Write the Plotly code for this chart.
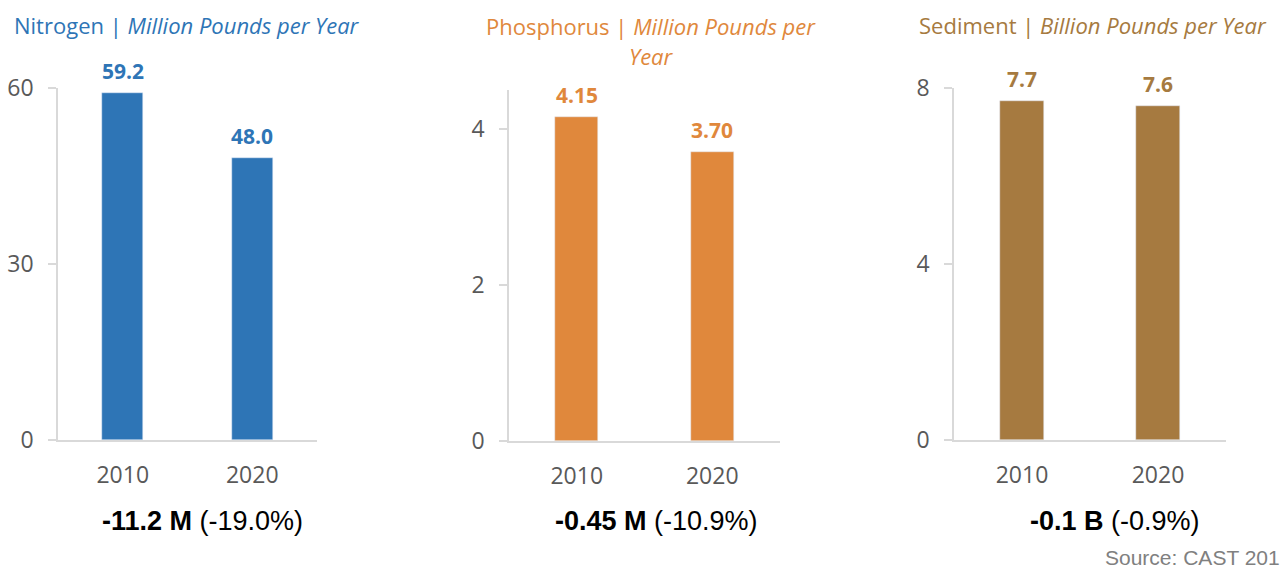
import plotly.graph_objects as go

W, H = 1282, 570

years = ["2010", "2020"]
nitrogen = [59.2, 48.0]
phosphorus = [4.15, 3.70]
sediment = [7.7, 7.6]

nitrogen_labels = ["59.2", "48.0"]
phosphorus_labels = ["4.15", "3.70"]
sediment_labels = ["7.7", "7.6"]

nitrogen_ticks = [0, 30, 60]
phosphorus_ticks = [0, 2, 4]
sediment_ticks = [0, 4, 8]

change_bold = ["-11.2 M", "-0.45 M", "-0.1 B"]
change_pct = ["(-19.0%)", "(-10.9%)", "(-0.9%)"]

C_N = "#2E75B6"
C_P = "#E0883C"
C_S = "#A67A40"
GRID = "#D9D9D9"
TICK = "#595959"


def px_x(p):
    return p / W


def px_y(p):
    return (H - p) / H


panels = [
    dict(vals=nitrogen, labels=nitrogen_labels, ticks=nitrogen_ticks, rng=[0, 60], color=C_N,
         xd=[58, 317], yd=[440, 88]),
    dict(vals=phosphorus, labels=phosphorus_labels, ticks=phosphorus_ticks, rng=[0, 4.5], color=C_P,
         xd=[509, 780], yd=[441, 90]),
    dict(vals=sediment, labels=sediment_labels, ticks=sediment_ticks, rng=[0, 8], color=C_S,
         xd=[954, 1226], yd=[440, 88]),
]

fig = go.Figure()
annotations = []
for i, p in enumerate(panels):
    n = "" if i == 0 else str(i + 1)
    fig.add_trace(go.Bar(x=years, y=p["vals"], marker_color=p["color"], width=0.32,
                         xaxis="x" + n, yaxis="y" + n, showlegend=False, hoverinfo="skip"))
    fig.layout["xaxis" + n] = dict(
        type="category", range=[-0.5, 1.5], automargin=False,
        domain=[px_x(p["xd"][0]), px_x(p["xd"][1])], anchor="y" + n,
        showline=True, linecolor=GRID, linewidth=1.5, showgrid=False, zeroline=False,
        ticks="", tickfont=dict(family="Open Sans", size=23, color=TICK),
        ticklabelstandoff=14, fixedrange=True)
    fig.layout["yaxis" + n] = dict(
        domain=[px_y(p["yd"][0]), px_y(p["yd"][1])], anchor="x" + n, range=p["rng"],
        automargin=False,
        tickvals=p["ticks"], ticktext=[str(t) for t in p["ticks"]],
        showline=True, linecolor=GRID, linewidth=1.5, showgrid=False, zeroline=False,
        ticks="outside", ticklen=8, tickcolor=GRID, tickwidth=1.5,
        tickfont=dict(family="Open Sans", size=23, color=TICK),
        ticklabelstandoff=10, fixedrange=True)
    for k, (v, lab) in enumerate(zip(p["vals"], p["labels"])):
        annotations.append(dict(x=k, y=v, xref="x" + n, yref="y" + n, text="<b>" + lab + "</b>",
                                showarrow=False, yanchor="middle", yshift=22,
                                font=dict(family="Open Sans", size=21, color=p["color"])))

sub_x = [202, 657, 1115]
for cx, b, pc in zip(sub_x, change_bold, change_pct):
    annotations.append(dict(x=px_x(cx), y=px_y(521), xref="paper", yref="paper",
                            text="<b>" + b + "</b> " + pc, showarrow=False,
                            xanchor="center", yanchor="middle",
                            font=dict(family="Liberation Sans, Arial", size=27, color="#000000")))

# titles
annotations.append(dict(x=px_x(12), y=px_y(25), xref="paper", yref="paper", xanchor="left", yanchor="middle",
                        text="Nitrogen | <i>Million Pounds per Year</i>", showarrow=False,
                        font=dict(family="Open Sans", size=22, color=C_N)))
annotations.append(dict(x=px_x(651), y=px_y(26), xref="paper", yref="paper", xanchor="center", yanchor="middle",
                        text="Phosphorus | <i>Million Pounds per</i>", showarrow=False,
                        font=dict(family="Open Sans", size=22, color=C_P)))
annotations.append(dict(x=px_x(651), y=px_y(56), xref="paper", yref="paper", xanchor="center", yanchor="middle",
                        text="<i>Year</i>", showarrow=False,
                        font=dict(family="Open Sans", size=22, color=C_P)))
annotations.append(dict(x=px_x(1093), y=px_y(25), xref="paper", yref="paper", xanchor="center", yanchor="middle",
                        text="Sediment | <i>Billion Pounds per Year</i>", showarrow=False,
                        font=dict(family="Open Sans", size=22, color=C_S)))
annotations.append(dict(x=1.0, y=px_y(557), xref="paper", yref="paper", xanchor="right", yanchor="middle",
                        text="Source: CAST 201", showarrow=False,
                        font=dict(family="Liberation Sans, Arial", size=21, color="#808080")))

fig.update_layout(width=W, height=H, margin=dict(l=0, r=0, t=0, b=0, pad=0, autoexpand=False),
                  paper_bgcolor="white", plot_bgcolor="white",
                  annotations=annotations, bargap=0)

fig.write_html("out.html", config={"displayModeBar": False})
